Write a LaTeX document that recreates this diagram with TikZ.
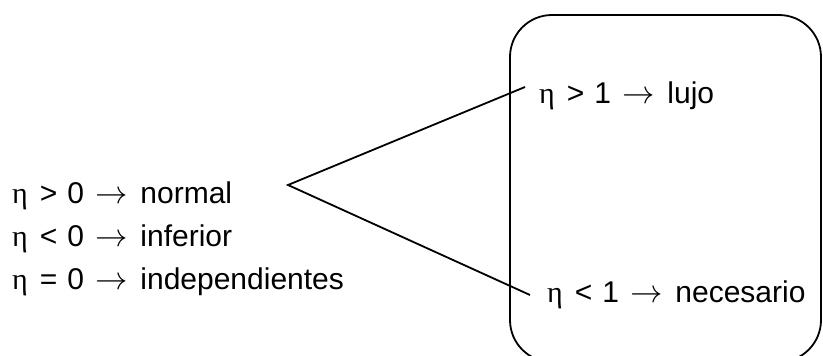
\documentclass[tikz,border=0pt]{standalone}
\usepackage{fontspec}
\setmainfont{Liberation Sans}
\newfontfamily\simbolo{Liberation Serif}

% eta, relacion, numero, flecha y tipo de bien
\newcommand{\elast}[3]{{\simbolo η}\hspace{12pt}#1\hspace{10pt}#2\hspace{11pt}\scalebox{1.3}{$\rightarrow$}\hspace{13pt}#3}

\tikzset{
  cond/.style={anchor=base west, inner sep=0pt, font=\fontsize{30}{36}\selectfont},
  linea/.style={line width=1.8pt, black},
}

\begin{document}
\begin{tikzpicture}[x=1pt, y=-1pt]
        \useasboundingbox (0,0) rectangle (823,356);
        % grupos a la izquierda
        \node[cond] (normal) at (12,203) {\elast{>}{0}{normal}};
        \node[cond] (inferior) at (12,246) {\elast{<}{0}{inferior}};
        \node[cond] (indep) at (12,289) {\elast{=}{0}{independientes}};
        % caja de la derecha
        \draw[linea, rounded corners=42pt] (510,15) rectangle (821,362);
        \node[cond] (lujo) at (539,103) {\elast{>}{1}{lujo}};
        \node[cond] (necesario) at (547,302) {\elast{<}{1}{necesario}};
        % las dos ramas
        \coordinate (apex) at (288,185);
        \coordinate (arriba) at (525,87);
        \coordinate (abajo) at (530,295);
        \draw[linea] (arriba) -- (apex) -- (abajo);
      \end{tikzpicture}
\end{document}
